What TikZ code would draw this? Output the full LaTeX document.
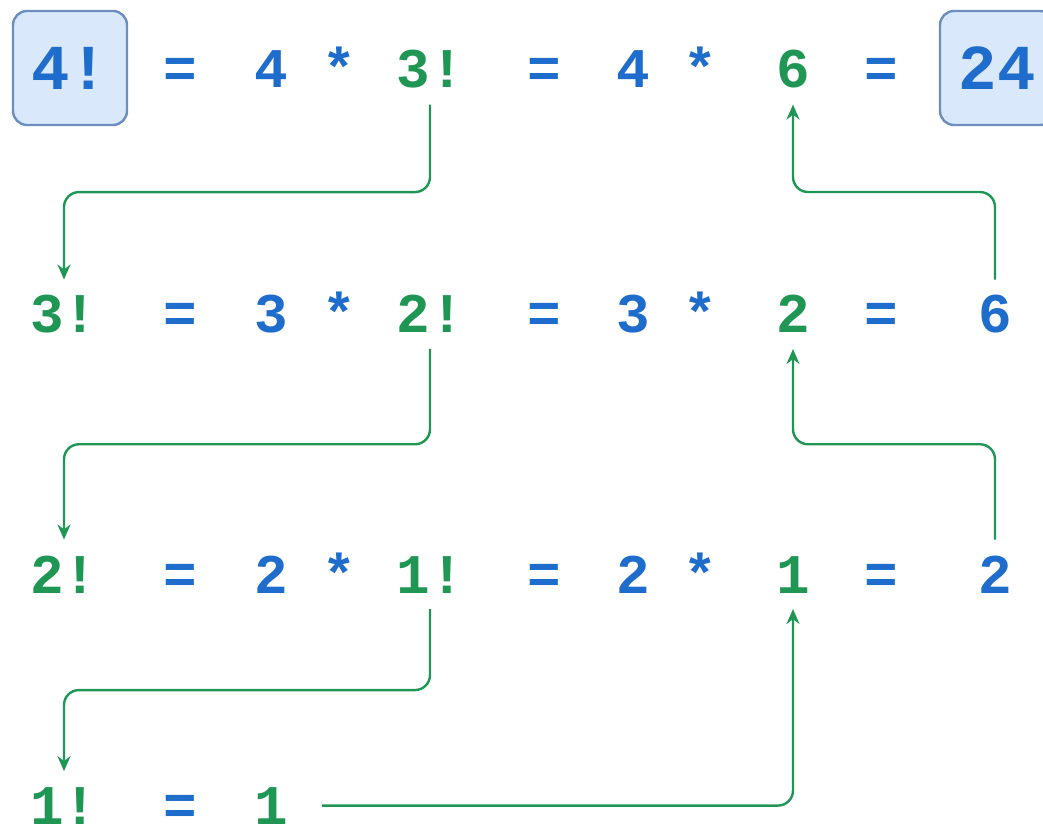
\documentclass[tikz,border=0pt]{standalone}
\usepackage{fontspec}
\setmainfont{Liberation Mono}
\usetikzlibrary{calc,arrows.meta}

\definecolor{numblue}{RGB}{30,108,204}
\definecolor{recgreen}{RGB}{32,150,84}
\definecolor{boxfill}{RGB}{218,232,252}
\definecolor{boxline}{RGB}{108,142,191}

\begin{document}
\begin{tikzpicture}[>={Stealth[length=7.5pt,width=6.5pt]}, x=0.5pt, y=-0.5pt,
		tok/.style={anchor=base, inner sep=0pt, outer sep=8pt, text=numblue,
			font=\bfseries\fontsize{28}{28}\selectfont},
		rec/.style={tok, text=recgreen},
		res/.style={draw=boxline, line width=1.2pt, fill=boxfill, rounded corners=7pt,
			minimum width=57pt, minimum height=57pt, inner sep=0pt, text=numblue,
			font=\bfseries\fontsize{32}{32}\selectfont},
		link/.style={recgreen, line width=1.2pt, rounded corners=7.5pt}]
		
		% 0. Khung hình
		\useasboundingbox (0,0) rectangle (1043,833);
		
		% 1. Dòng 1: 4! = 4 * 3! = 4 * 6 = 24
		\node[res] (r1n) at (70,68) {4!};
		\node[tok] (r1e1) at (180,88) {=};
		\node[tok] (r1k) at (271,88) {4};
		\node[tok] (r1m) at (339,88) {*};
		\node[rec] (r1f) at (430,88) {3!};
		\node[tok] (r1e2) at (544,88) {=};
		\node[tok] (r1k2) at (633,88) {4};
		\node[tok] (r1m2) at (700,88) {*};
		\node[rec] (r1v) at (793,88) {6};
		\node[tok] (r1e3) at (881,88) {=};
		\node[res] (r1r) at (997,68) {24};
		
		% 2. Dòng 2: 3! = 3 * 2! = 3 * 2 = 6
		\node[rec] (r2n) at (64,333) {3!};
		\node[tok] (r2e1) at (180,333) {=};
		\node[tok] (r2k) at (271,333) {3};
		\node[tok] (r2m) at (339,333) {*};
		\node[rec] (r2f) at (430,333) {2!};
		\node[tok] (r2e2) at (544,333) {=};
		\node[tok] (r2k2) at (633,333) {3};
		\node[tok] (r2m2) at (700,333) {*};
		\node[rec] (r2v) at (793,333) {2};
		\node[tok] (r2e3) at (881,333) {=};
		\node[tok] (r2r) at (995,333) {6};
		
		% 3. Dòng 3: 2! = 2 * 1! = 2 * 1 = 2
		\node[rec] (r3n) at (64,593) {2!};
		\node[tok] (r3e1) at (180,593) {=};
		\node[tok] (r3k) at (271,593) {2};
		\node[tok] (r3m) at (339,593) {*};
		\node[rec] (r3f) at (430,593) {1!};
		\node[tok] (r3e2) at (544,593) {=};
		\node[tok] (r3k2) at (633,593) {2};
		\node[tok] (r3m2) at (700,593) {*};
		\node[rec] (r3v) at (793,593) {1};
		\node[tok] (r3e3) at (881,593) {=};
		\node[tok] (r3r) at (995,593) {2};
		
		% 4. Dòng 4: 1! = 1
		\node[rec] (r4n) at (64,824) {1!};
		\node[tok] (r4e1) at (180,824) {=};
		\node[rec] (r4k) at (271,824) {1};
		
		% 5. Mũi tên gọi đệ quy (đi xuống bên trái)
		\draw[link, ->] (r1f.south) |- ($(r1f.south)!.5!(r2n.north)$) -| (r2n.north);
		\draw[link, ->] (r2f.south) |- ($(r2f.south)!.5!(r3n.north)$) -| (r3n.north);
		\draw[link, ->] (r3f.south) |- ($(r3f.south)!.5!(r4n.north)$) -| (r4n.north);
		
		% 6. Mũi tên trả kết quả (đi lên bên phải)
		\draw[link, ->] (r2r.north) |- ($(r2r.north)!.5!(r1v.south)$) -| (r1v.south);
		\draw[link, ->] (r3r.north) |- ($(r3r.north)!.5!(r2v.south)$) -| (r2v.south);
		\draw[link, ->, shorten <=9pt] (r4k.east) -| (r3v.south);
		
	\end{tikzpicture}
\end{document}
